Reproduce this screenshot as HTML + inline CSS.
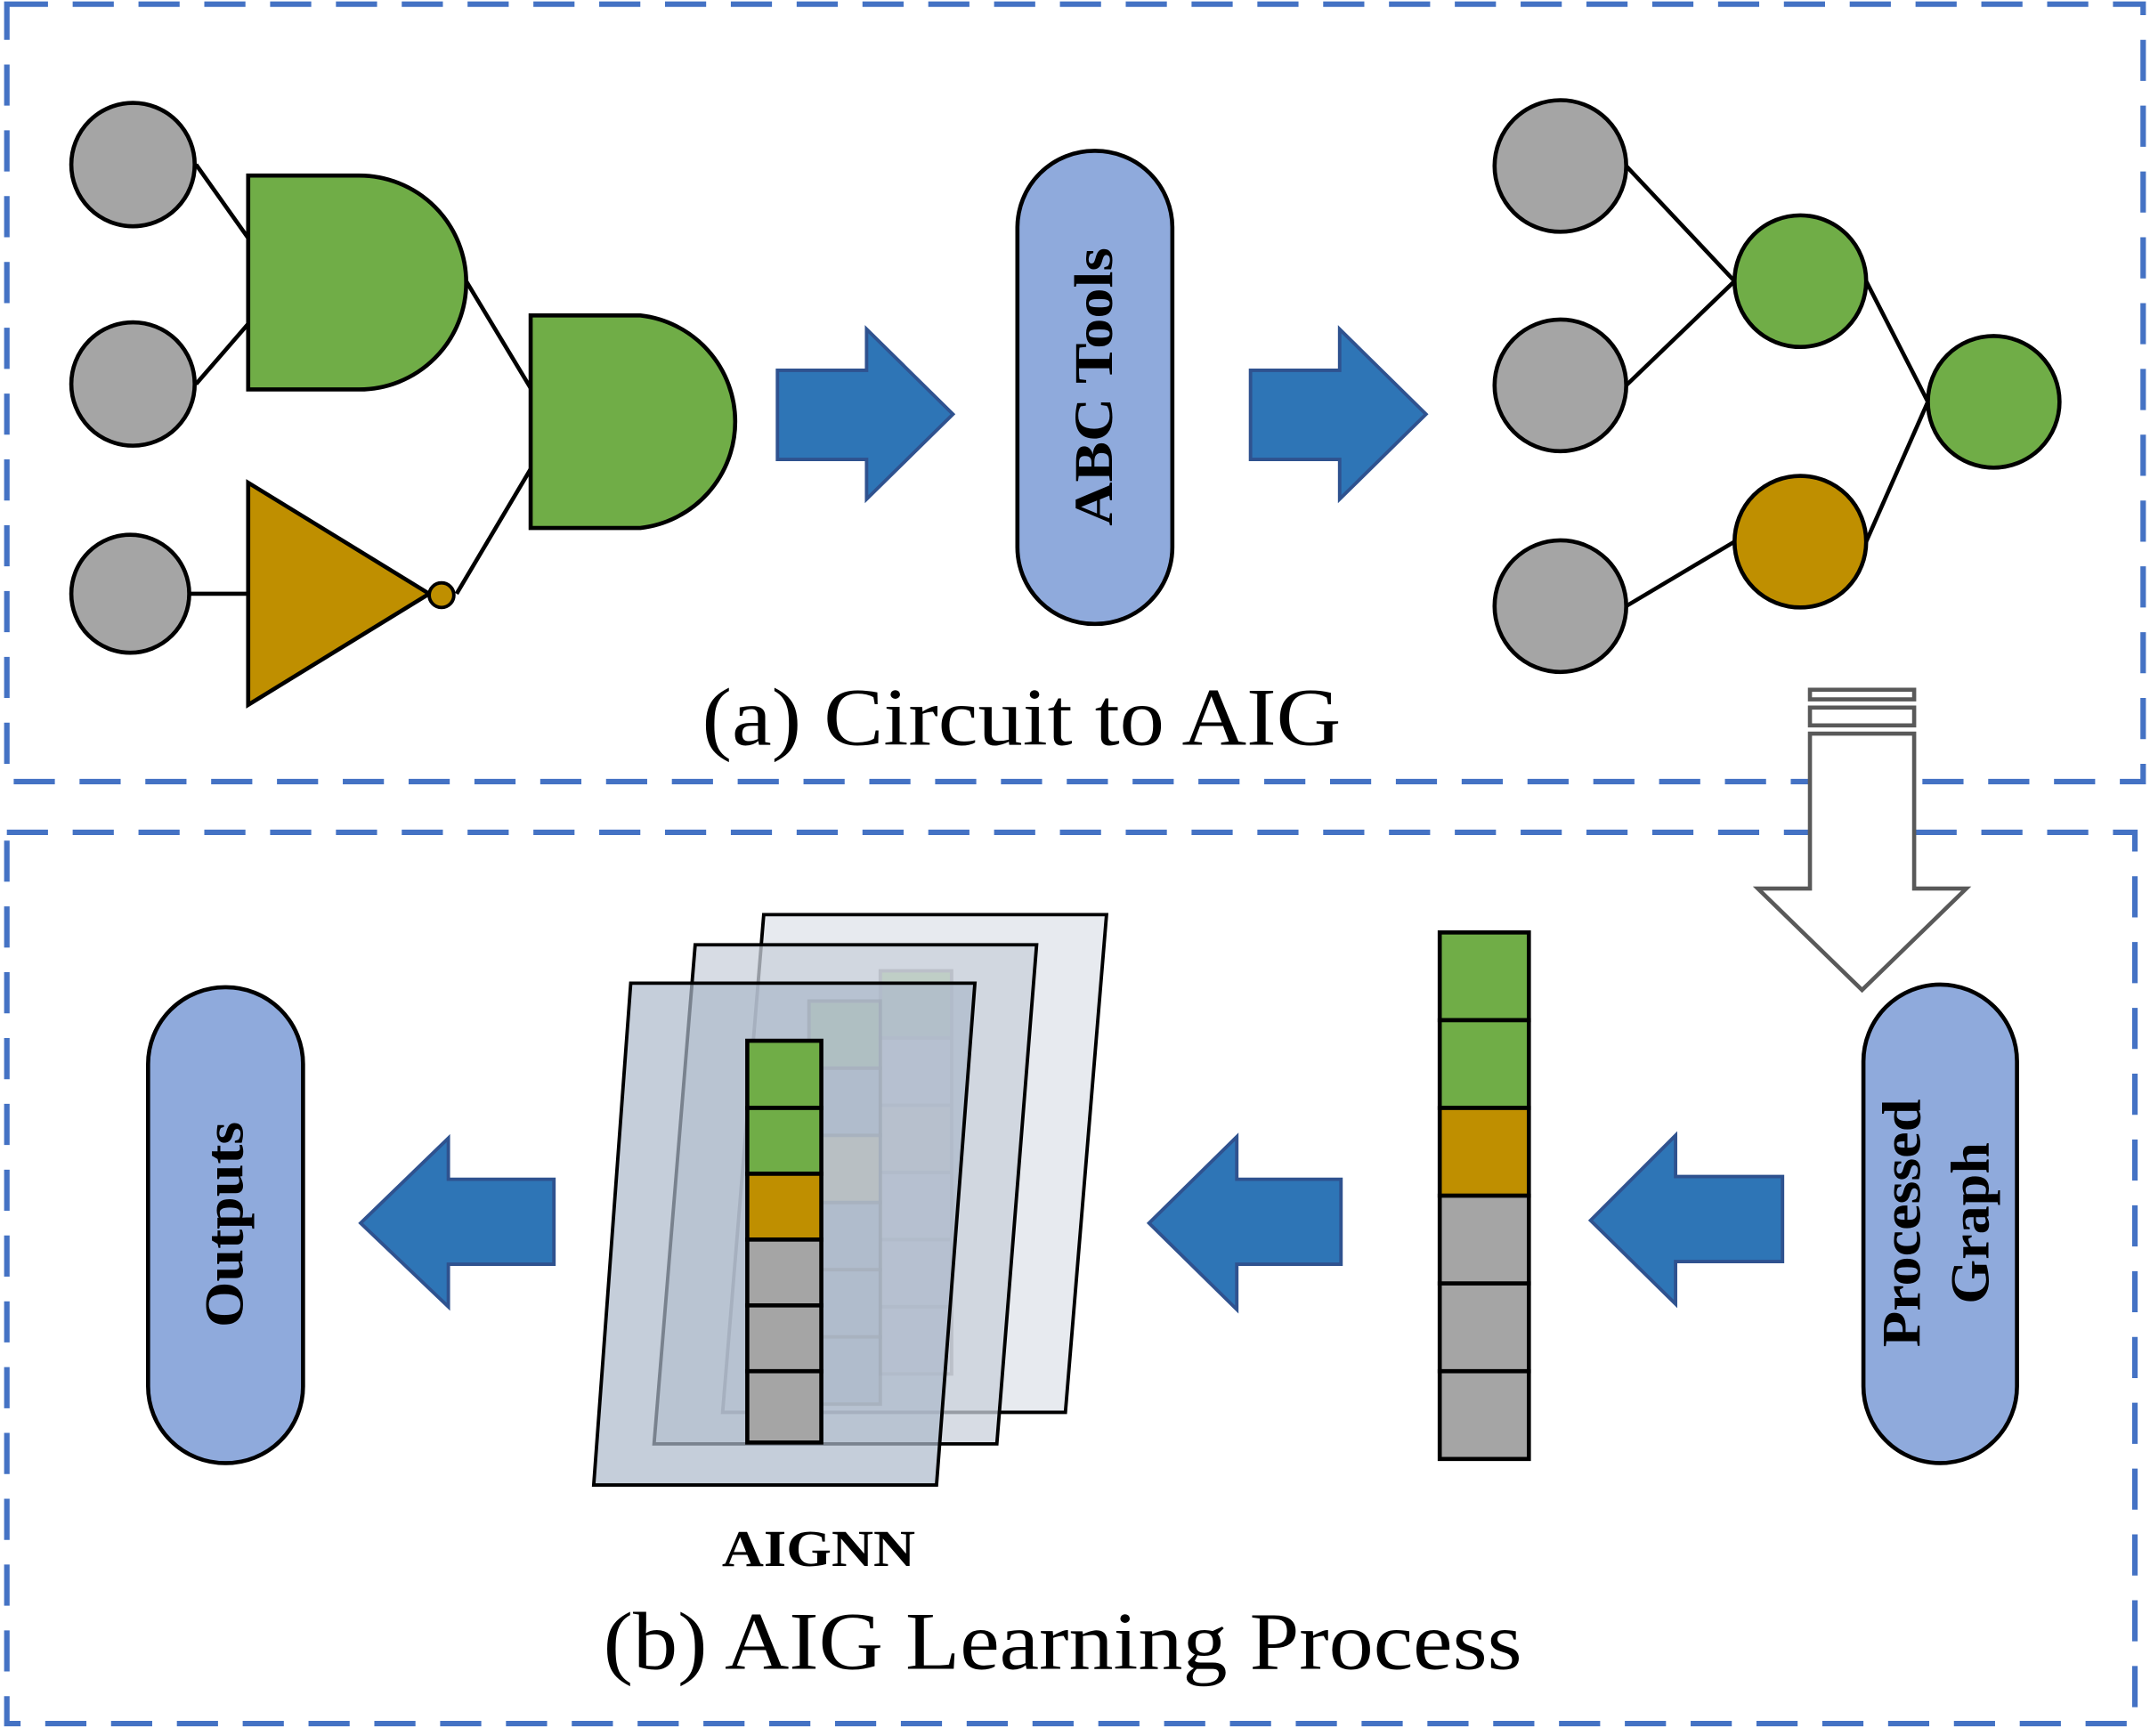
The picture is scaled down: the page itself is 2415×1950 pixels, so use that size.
<!DOCTYPE html>
<html><head><meta charset="utf-8"><style>
html,body{margin:0;padding:0;background:#fff;}
svg{display:block;}
</style></head><body>
<svg width="2415" height="1950" viewBox="0 0 1568 1266" xmlns="http://www.w3.org/2000/svg">
<rect width="1568" height="1266" fill="#fff"/>
<g fill="none" stroke="#4472C4" stroke-width="4" stroke-dasharray="30,18">
<rect x="5" y="3" width="1558" height="567"/>
<rect x="5" y="607" width="1552" height="650"/>
</g>
<g stroke="#000" stroke-width="3">
<line x1="143" y1="120" x2="182" y2="175"/>
<line x1="143" y1="280" x2="182" y2="235"/>
<line x1="138" y1="433" x2="182" y2="433"/>
<line x1="340" y1="205" x2="387" y2="283"/>
<line x1="333" y1="433" x2="387" y2="342"/>
</g>
<g fill="#A5A5A5" stroke="#000" stroke-width="3">
<circle cx="97" cy="120" r="45"/><circle cx="97" cy="280" r="45"/><circle cx="95" cy="433" r="43"/>
</g>
<g fill="#70AD47" stroke="#000" stroke-width="3">
<path d="M181,128 L262,128 A78,78 0 0 1 262,284 L181,284 Z"/>
<path d="M387,230 L467,230 A78,78 0 0 1 467,385 L387,385 Z"/>
</g>
<path d="M181,352 L181,514 L313,433 Z" fill="#BF8F00" stroke="#000" stroke-width="3"/>
<circle cx="322" cy="434" r="9" fill="#BF8F00" stroke="#000" stroke-width="2.5"/>
<g fill="#2E75B6" stroke="#2F528F" stroke-width="2.5">
<path d="M567,270 L632,270 L632,240 L695,302 L632,364 L632,335 L567,335 Z"/>
<path d="M912,270 L977,270 L977,240 L1040,302 L977,364 L977,335 L912,335 Z"/>
<path d="M1300,858 L1222,858 L1222,828 L1160,890 L1222,951 L1222,920 L1300,920 Z"/>
<path d="M978,860 L902,860 L902,829 L838,892 L902,955 L902,922 L978,922 Z"/>
<path d="M404,860 L327,860 L327,830 L263,892 L327,953 L327,922 L404,922 Z"/>
</g>
<g fill="#8FAADC" stroke="#000" stroke-width="3">
<rect x="742" y="110" width="113" height="345" rx="56"/>
<rect x="1359" y="718" width="112" height="349" rx="56"/>
<rect x="108" y="720" width="113" height="347" rx="56"/>
</g>
<g font-family="Liberation Serif, serif" font-weight="bold" font-size="40" fill="#000" text-anchor="middle" lengthAdjust="spacingAndGlyphs">
<text transform="translate(811,282) rotate(-90)" textLength="203" lengthAdjust="spacingAndGlyphs">ABC Tools</text>
<text transform="translate(1400,892) rotate(-90)" textLength="181" lengthAdjust="spacingAndGlyphs">Processed</text>
<text transform="translate(1450,892) rotate(-90)" textLength="118" lengthAdjust="spacingAndGlyphs">Graph</text>
<text transform="translate(177,893) rotate(-90)" textLength="150" lengthAdjust="spacingAndGlyphs">Outputs</text>
<text x="597" y="1142" font-size="38" textLength="141" lengthAdjust="spacingAndGlyphs">AIGNN</text>
</g>
<g stroke="#000" stroke-width="3">
<line x1="1186" y1="121" x2="1265" y2="205"/>
<line x1="1186" y1="281" x2="1265" y2="205"/>
<line x1="1186" y1="442" x2="1265" y2="395"/>
<line x1="1361" y1="205" x2="1406" y2="293"/>
<line x1="1361" y1="395" x2="1406" y2="293"/>
</g>
<g stroke="#000" stroke-width="3">
<circle cx="1138" cy="121" r="48" fill="#A5A5A5"/>
<circle cx="1138" cy="281" r="48" fill="#A5A5A5"/>
<circle cx="1138" cy="442" r="48" fill="#A5A5A5"/>
<circle cx="1313" cy="205" r="48" fill="#70AD47"/>
<circle cx="1454" cy="293" r="48" fill="#70AD47"/>
<circle cx="1313" cy="395" r="48" fill="#BF8F00"/>
</g>
<g font-family="Liberation Serif, serif" font-size="60" fill="#000">
<text x="512" y="543" textLength="466" lengthAdjust="spacingAndGlyphs">(a) Circuit to AIG</text>
<text x="440" y="1217" textLength="670" lengthAdjust="spacingAndGlyphs">(b) AIG Learning Process</text>
</g>
<g fill="#fff" stroke="#595959" stroke-width="3">
<rect x="1320" y="503" width="76" height="7"/>
<rect x="1320" y="516" width="76" height="13"/>
<path d="M1320,535 L1396,535 L1396,648 L1434,648 L1358,722 L1282,648 L1320,648 Z"/>
</g>
<g stroke="#000" stroke-width="3">
<rect x="1050" y="680" width="65" height="64" fill="#70AD47"/>
<rect x="1050" y="744" width="65" height="64" fill="#70AD47"/>
<rect x="1050" y="808" width="65" height="64" fill="#BF8F00"/>
<rect x="1050" y="872" width="65" height="64" fill="#A5A5A5"/>
<rect x="1050" y="936" width="65" height="64" fill="#A5A5A5"/>
<rect x="1050" y="1000" width="65" height="64" fill="#A5A5A5"/>
</g>
<polygon points="557,667 807,667 777,1030 527,1030" fill="#E7EAEF" stroke="#000" stroke-width="2.5"/>
<g stroke="#555" stroke-width="2.5" opacity="0.6">
<rect x="642" y="708" width="52" height="49" fill="#70AD47"/>
<rect x="642" y="757" width="52" height="49" fill="#bfc7d2"/>
<rect x="642" y="806" width="52" height="49" fill="#d9c79a"/>
<rect x="642" y="855" width="52" height="49" fill="#bfc7d2"/>
<rect x="642" y="904" width="52" height="49" fill="#bfc7d2"/>
<rect x="642" y="953" width="52" height="49" fill="#bfc7d2"/>
</g>
<polygon points="507,689 756,689 727,1053 477,1053" fill="#C9D0DB" fill-opacity="0.75" stroke="#000" stroke-width="2.5"/>
<g stroke="#777" stroke-width="2.5" opacity="0.55">
<rect x="590" y="730" width="52" height="49" fill="#9fc48a"/>
<rect x="590" y="779" width="52" height="49" fill="#a8b4c4"/>
<rect x="590" y="828" width="52" height="49" fill="#d5c88e"/>
<rect x="590" y="877" width="52" height="49" fill="#a8b4c4"/>
<rect x="590" y="926" width="52" height="49" fill="#a8b4c4"/>
<rect x="590" y="975" width="52" height="49" fill="#a8b4c4"/>
</g>
<polygon points="460,717 711,717 683,1083 433,1083" fill="#ADB9CA" fill-opacity="0.7" stroke="#000" stroke-width="2.5"/>
<g stroke="#000" stroke-width="3">
<rect x="545" y="759" width="54" height="49" fill="#70AD47"/>
<rect x="545" y="808" width="54" height="48" fill="#70AD47"/>
<rect x="545" y="856" width="54" height="48" fill="#BF8F00"/>
<rect x="545" y="904" width="54" height="48" fill="#A5A5A5"/>
<rect x="545" y="952" width="54" height="48" fill="#A5A5A5"/>
<rect x="545" y="1000" width="54" height="52" fill="#A5A5A5"/>
</g>
</svg>
</body></html>
